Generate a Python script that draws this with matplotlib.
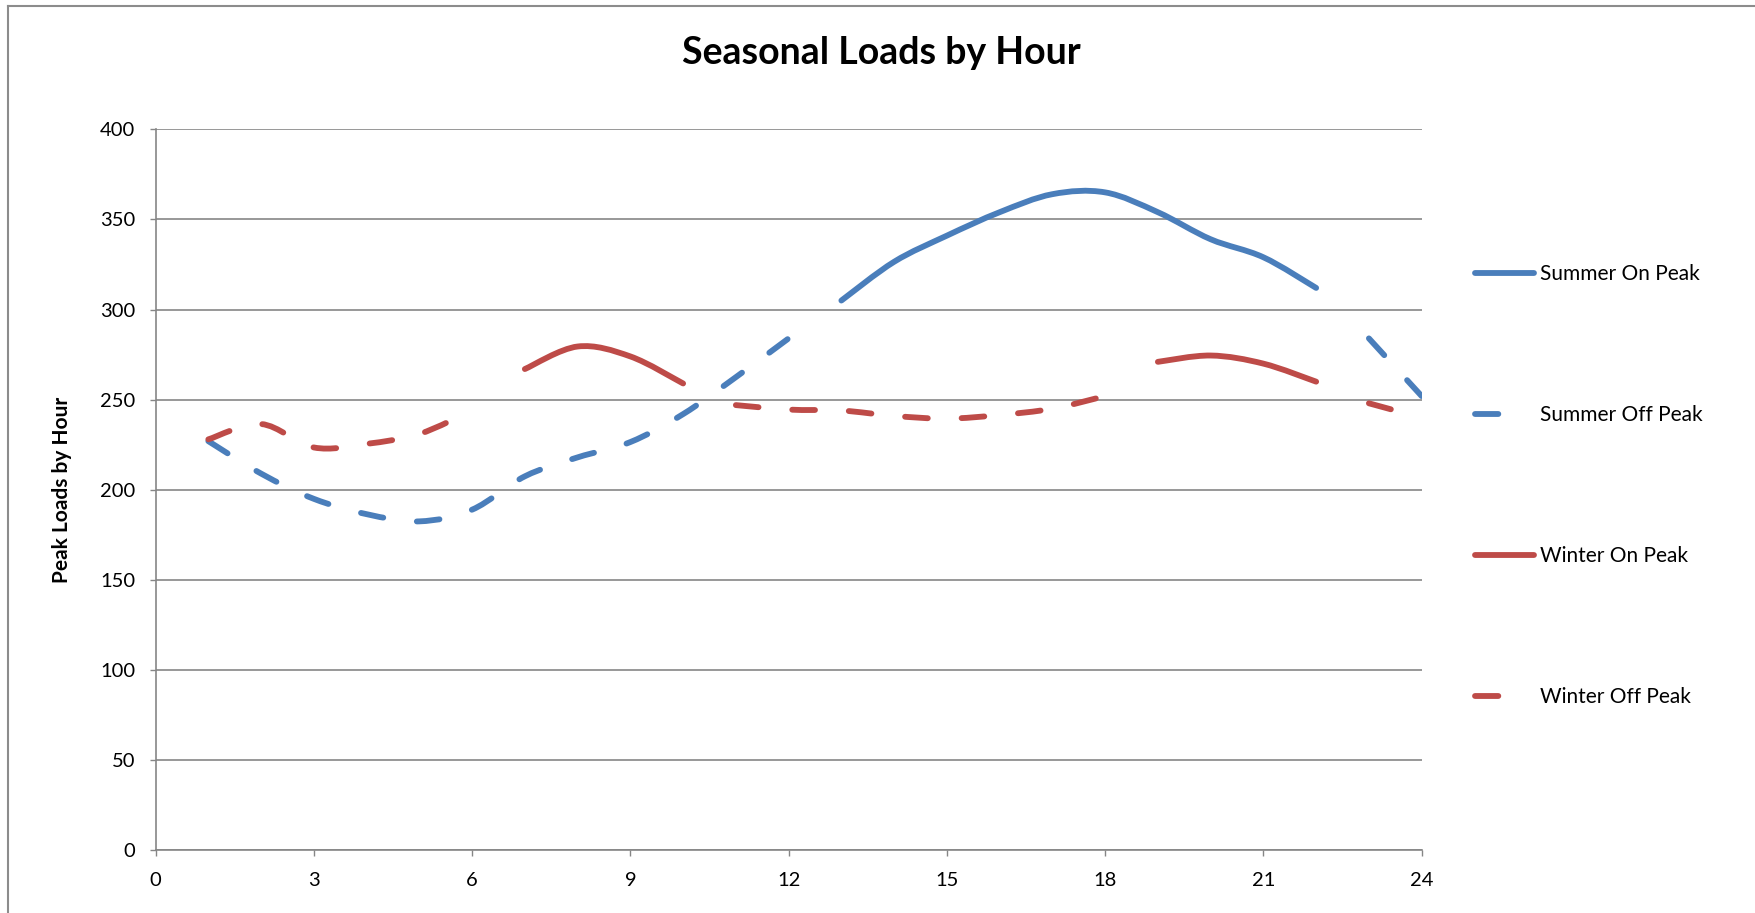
import matplotlib
matplotlib.use('Agg')
import matplotlib.pyplot as plt
from matplotlib.path import Path
from matplotlib.patches import PathPatch
from matplotlib.lines import Line2D

plt.rcParams['font.family'] = ['Lato', 'DejaVu Sans']

# cargas, por hora
summer_on_hours = [13, 14, 15, 16, 17, 18, 19, 20, 21, 22]
summer_on = [305, 326.5, 341, 354, 364, 365, 354, 339, 329, 312]

summer_off_hours = [1, 2, 3, 4, 5, 6, 7, 8, 9, 10, 11, 12, 23, 24]
summer_off = [227, 209, 195, 186.5, 182.5, 189, 207.5, 218, 226.5, 242, 262.5, 284, 284, 252]

winter_on_hours = [7, 8, 9, 10, 19, 20, 21, 22]
winter_on = [267, 279.5, 274, 259, 271, 274.5, 270, 260]

winter_off_hours = [1, 2, 3, 4, 5, 6, 11, 12, 13, 14, 15, 16, 17, 18, 23, 24]
winter_off = [228, 236.5, 223.5, 225.5, 231, 244, 247, 244.5, 244, 241, 239.5, 241.5, 245, 252, 248, 240]

names = ['Summer On Peak', 'Summer Off Peak', 'Winter On Peak', 'Winter Off Peak']
blue = '#4A7EBB'
red = '#BE4B48'
grid_col = '#868686'
lw = 4.2
dash = (0, (3.9, 5.8))


def tramos(hours, vals):
    # separa la serie donde faltan horas
    out = []
    cur = [(hours[0], vals[0])]
    for h, v in zip(hours[1:], vals[1:]):
        if h - cur[-1][0] > 1:
            out.append(cur)
            cur = []
        cur.append((h, v))
    out.append(cur)
    return out


def curva(pts):
    # linea suavizada tipo Excel (bezier cubica)
    verts = [pts[0]]
    codes = [Path.MOVETO]
    n = len(pts)
    for i in range(n - 1):
        p0 = pts[i - 1] if i > 0 else pts[i]
        p1 = pts[i]
        p2 = pts[i + 1]
        p3 = pts[i + 2] if i + 2 < n else pts[i + 1]
        c1 = (p1[0] + (p2[0] - p0[0]) / 6, p1[1] + (p2[1] - p0[1]) / 6)
        c2 = (p2[0] - (p3[0] - p1[0]) / 6, p2[1] - (p3[1] - p1[1]) / 6)
        verts += [c1, c2, p2]
        codes += [Path.CURVE4] * 3
    return Path(verts, codes)


fig = plt.figure(figsize=(17.56, 9.13), dpi=100)
ax = fig.add_axes([0.0886, 0.0686, 0.721, 0.7898])

series = [
    (summer_on_hours, summer_on, blue, '-'),
    (summer_off_hours, summer_off, blue, dash),
    (winter_on_hours, winter_on, red, '-'),
    (winter_off_hours, winter_off, red, dash),
]

for hours, vals, col, ls in series:
    for t in tramos(hours, vals):
        p = PathPatch(curva(t), fill=False, edgecolor=col, linewidth=lw,
                      linestyle=ls, capstyle='round', joinstyle='round', zorder=3)
        ax.add_patch(p)

ax.set_xlim(0, 24)
ax.set_ylim(0, 400)
ax.set_xticks(range(0, 25, 3))
ax.set_yticks(range(0, 401, 50))
ax.yaxis.grid(True, color=grid_col, linewidth=1.2)
ax.set_axisbelow(True)
for s in ['top', 'right']:
    ax.spines[s].set_visible(False)
for s in ['left', 'bottom']:
    ax.spines[s].set_color(grid_col)
    ax.spines[s].set_linewidth(1.2)
ax.tick_params(direction='out', length=4.5, width=1, color=grid_col,
               labelsize=14.5, labelcolor='black')
ax.tick_params(axis='x', pad=11)
ax.tick_params(axis='y', pad=10)

fig.text(0.502, 0.942, 'Seasonal Loads by Hour', ha='center', va='center',
         fontsize=27, fontweight='bold')
fig.text(0.0355, 0.4633, 'Peak Loads by Hour', ha='center', va='center',
         rotation=90, fontsize=15, fontweight='bold')

# leyenda
handles = [
    Line2D([], [], color=blue, lw=lw, solid_capstyle='round'),
    Line2D([], [], color=blue, lw=lw, dashes=(4, 12), dash_capstyle='round'),
    Line2D([], [], color=red, lw=lw, solid_capstyle='round'),
    Line2D([], [], color=red, lw=lw, dashes=(4, 12), dash_capstyle='round'),
]
ax.legend(handles, names, loc='center left', bbox_to_anchor=(0.8355, 0.468),
          bbox_transform=fig.transFigure, frameon=False, fontsize=15,
          handlelength=2.8, handletextpad=0.3, labelspacing=5.8, borderaxespad=0)

# borde del area del grafico
fig.add_artist(Line2D([8 / 1756, 1], [1 - 6 / 913] * 2, color='#8c8c8c', lw=1.5))
fig.add_artist(Line2D([8 / 1756] * 2, [0, 1 - 6 / 913], color='#8c8c8c', lw=1.5))

fig.savefig('out.png', dpi=100)
